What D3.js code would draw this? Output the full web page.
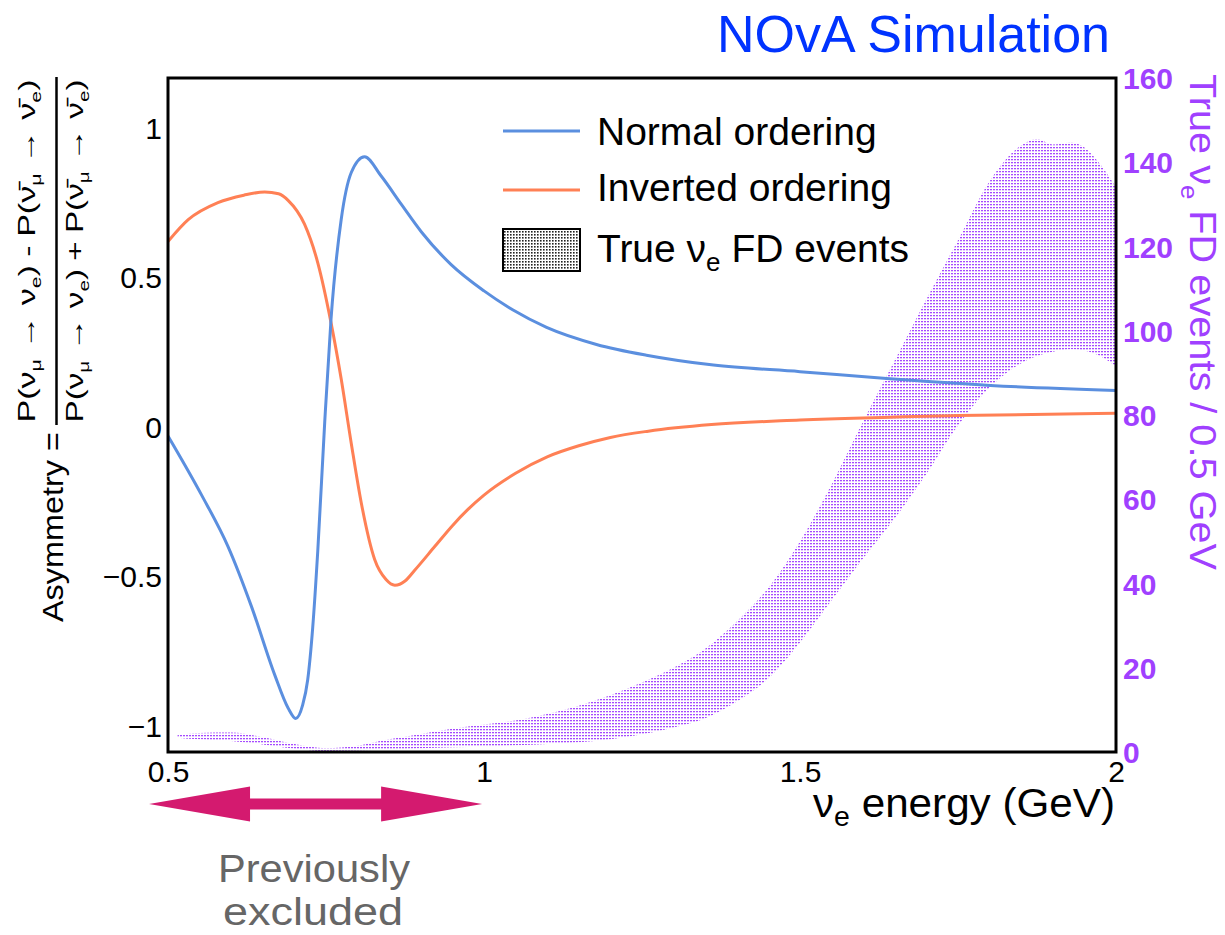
<!DOCTYPE html>
<html>
<head>
<meta charset="utf-8">
<script src="https://cdn.jsdelivr.net/npm/d3@7"></script>
<style>
  body { margin: 0; background: #fff; }
  text { font-family: "Liberation Sans", Arial, Helvetica, sans-serif; }
</style>
</head>
<body>
<svg id="chart" width="1225" height="935"></svg>
<script>
// Asymmetry for normal ordering vs neutrino energy (GeV)
const normalEnergy = [0.5, 0.553, 0.595, 0.632, 0.669, 0.69, 0.702, 0.713, 0.721, 0.729, 0.737, 0.748, 0.758, 0.774, 0.79, 0.811, 0.837, 0.869, 0.901, 0.948, 1.0, 1.046, 1.099, 1.178, 1.257, 1.363, 1.5, 1.642, 1.801, 2.0];
const normalAsym   = [-0.03, -0.227, -0.40, -0.60, -0.83, -0.94, -0.975, -0.93, -0.846, -0.67, -0.414, 0.017, 0.362, 0.693, 0.851, 0.904, 0.84, 0.745, 0.652, 0.543, 0.455, 0.391, 0.333, 0.276, 0.240, 0.207, 0.185, 0.161, 0.139, 0.122];

// Asymmetry for inverted ordering
const invertedEnergy = [0.5, 0.532, 0.579, 0.62, 0.653, 0.675, 0.69, 0.716, 0.737, 0.758, 0.774, 0.79, 0.806, 0.827, 0.845, 0.859, 0.875, 0.89, 0.922, 0.95, 0.975, 1.0, 1.05, 1.1, 1.15, 1.2, 1.26, 1.36, 1.5, 1.75, 2.0];
const invertedAsym   = [0.62, 0.693, 0.750, 0.775, 0.786, 0.78, 0.758, 0.678, 0.549, 0.348, 0.161, -0.055, -0.256, -0.443, -0.51, -0.529, -0.515, -0.48, -0.40, -0.33, -0.275, -0.228, -0.155, -0.10, -0.063, -0.035, -0.014, 0.008, 0.023, 0.038, 0.046];

// True nu_e far-detector events per 0.5 GeV: lower and upper edge of the band
const bandEnergy = [0.515, 0.55, 0.6, 0.65, 0.7, 0.75, 0.8, 0.85, 0.9, 0.95, 1.0, 1.05, 1.1, 1.15, 1.2, 1.25, 1.3, 1.35, 1.4, 1.45, 1.5, 1.55, 1.6, 1.65, 1.7, 1.75, 1.8, 1.85, 1.875, 1.9, 1.93, 1.95, 1.975, 2.0];
const bandLow  = [3.4, 3.0, 2.6, 1.8, 0.8, 0.3, 0.4, 0.6, 0.9, 1.1, 1.3, 1.6, 1.9, 2.3, 3.0, 4.2, 5.8, 8.0, 12.0, 17.5, 26.0, 36.0, 46.0, 55.5, 66.0, 77.5, 86.5, 92.3, 94.0, 95.0, 95.6, 95.3, 94.0, 91.5];
const bandHigh = [4.0, 4.5, 4.6, 3.5, 1.9, 0.9, 1.5, 3.0, 4.3, 5.5, 6.5, 7.5, 9.0, 11.0, 13.5, 16.5, 20.0, 24.5, 31.0, 39.0, 50.0, 63.5, 78.5, 93.0, 107.5, 121.5, 135.5, 144.0, 145.5, 144.2, 144.7, 143.5, 139.5, 134.0];

const xTicks = [0.5, 1, 1.5, 2];
const asymTicks = [-1, -0.5, 0, 0.5, 1];
const eventTicks = [0, 20, 40, 60, 80, 100, 120, 140, 160];

const legendItems = ["Normal ordering", "Inverted ordering"];

const frame = { left: 168, right: 1116, top: 78, bottom: 752 };
const colNormal = "#5b8fdf", colInverted = "#ff8055", colPurple = "#a040ff";

const svg = d3.select("#chart");
const defs = svg.append("defs");

// dotted fills
const pBand = defs.append("pattern").attr("id", "bandDots")
  .attr("patternUnits", "userSpaceOnUse").attr("width", 3).attr("height", 3);
pBand.append("rect").attr("width", 2).attr("height", 1.3).attr("fill", "#a64aff");

const pLeg = defs.append("pattern").attr("id", "legendDots")
  .attr("patternUnits", "userSpaceOnUse").attr("width", 3).attr("height", 3);
pLeg.append("rect").attr("width", 3).attr("height", 3).attr("fill", "#fff");
pLeg.append("rect").attr("width", 1.6).attr("height", 1.6).attr("fill", "#222");

defs.append("clipPath").attr("id", "plotClip").append("rect")
  .attr("x", frame.left).attr("y", frame.top)
  .attr("width", frame.right - frame.left).attr("height", frame.bottom - frame.top);

const x = d3.scaleLinear().domain([0.5, 2]).range([frame.left, frame.right]);
const yA = d3.scaleLinear().domain([-1.087, 1.167]).range([frame.bottom, frame.top]);
const yE = d3.scaleLinear().domain([0, 160]).range([frame.bottom, frame.top]);

const plot = svg.append("g").attr("clip-path", "url(#plotClip)");

// event band
const band = bandEnergy.map((e, i) => ({ e, lo: bandLow[i], hi: bandHigh[i] }));
plot.append("path").datum(band)
  .attr("fill", "url(#bandDots)")
  .attr("d", d3.area().x(d => x(d.e)).y0(d => yE(d.lo)).y1(d => yE(d.hi))
    .curve(d3.curveMonotoneX));

// asymmetry curves
const line = d3.line().x(d => x(d[0])).y(d => yA(d[1])).curve(d3.curveMonotoneX);
plot.append("path").datum(invertedEnergy.map((e, i) => [e, invertedAsym[i]]))
  .attr("fill", "none").attr("stroke", colInverted).attr("stroke-width", 3).attr("d", line);
plot.append("path").datum(normalEnergy.map((e, i) => [e, normalAsym[i]]))
  .attr("fill", "none").attr("stroke", colNormal).attr("stroke-width", 3).attr("d", line);

// frame
svg.append("rect").attr("x", frame.left).attr("y", frame.top)
  .attr("width", frame.right - frame.left).attr("height", frame.bottom - frame.top)
  .attr("fill", "none").attr("stroke", "#000").attr("stroke-width", 3);

const fmt = d3.format("~g");
const fontFam = "Liberation Sans, Arial, sans-serif";

// bottom axis
const gx = svg.append("g").attr("transform", `translate(0,${frame.bottom})`)
  .call(d3.axisBottom(x).tickValues(xTicks).tickSize(0).tickFormat(fmt));
gx.select(".domain").remove();
gx.selectAll("text").attr("y", 30).attr("dy", 0)
  .attr("font-size", 30).attr("fill", "#000").style("font-family", fontFam);

// left axis
const gy = svg.append("g").attr("transform", `translate(${frame.left},0)`)
  .call(d3.axisLeft(yA).tickValues(asymTicks).tickSize(0).tickFormat(fmt));
gy.select(".domain").remove();
gy.selectAll("text").attr("x", -6).attr("dy", "0.35em")
  .attr("font-size", 30).attr("fill", "#000").style("font-family", fontFam);

// right axis
const gr = svg.append("g").attr("transform", `translate(${frame.right},0)`)
  .call(d3.axisRight(yE).tickValues(eventTicks).tickSize(0).tickFormat(fmt));
gr.select(".domain").remove();
gr.selectAll("text").attr("x", 7).attr("dy", "0.35em")
  .attr("font-size", 30).attr("font-weight", "bold").attr("fill", colPurple)
  .style("font-family", fontFam);

// header
svg.append("text").attr("x", 1110).attr("y", 52).attr("text-anchor", "end")
  .attr("font-size", 52).attr("fill", "#0033ff").text("NOvA Simulation");

// x axis title
const xt = svg.append("text").attr("x", 1115).attr("y", 817).attr("text-anchor", "end")
  .attr("font-size", 40).attr("fill", "#000")
  .attr("textLength", 302).attr("lengthAdjust", "spacingAndGlyphs");
xt.append("tspan").text("\u03bd");
xt.append("tspan").attr("font-size", 27).attr("dy", 9).text("e");
xt.append("tspan").attr("dy", -9).text(" energy (GeV)");

// right axis title (reads downward)
const rt = svg.append("text").attr("transform", "translate(1190,74) rotate(90)")
  .attr("font-size", 37).attr("fill", colPurple)
  .attr("textLength", 496).attr("lengthAdjust", "spacingAndGlyphs");
rt.append("tspan").text("True \u03bd");
rt.append("tspan").attr("font-size", 24).attr("dy", 9).text("e");
rt.append("tspan").attr("dy", -9).text(" FD events / 0.5 GeV");

// left axis title: Asymmetry = fraction
const lt = svg.append("g");
lt.append("text").attr("transform", "translate(63,622) rotate(-90)")
  .attr("font-size", 29).attr("fill", "#000")
  .attr("textLength", 190).attr("lengthAdjust", "spacingAndGlyphs")
  .text("Asymmetry =");
lt.append("line").attr("x1", 56.5).attr("x2", 56.5).attr("y1", 77).attr("y2", 425)
  .attr("stroke", "#000").attr("stroke-width", 2.5);

function probTerm(sel, lead, nuBar) {
  // P(nu_mu -> nu_e), optionally for anti-neutrinos
  const nu = nuBar ? "\u03bd\u0304" : "\u03bd";
  if (lead) sel.append("tspan").attr("dx", 6).text(lead);
  sel.append("tspan").attr("dx", lead ? 6 : 0).text("P(" + nu);
  sel.append("tspan").attr("font-size", 15).attr("dy", 6).text("\u03bc");
  sel.append("tspan").attr("dy", -6).attr("dx", 7).text("\u2192");
  sel.append("tspan").attr("dx", 7).text(nu);
  sel.append("tspan").attr("font-size", 15).attr("dy", 6).text("e");
  sel.append("tspan").attr("dy", -6).text(")");
}
const num = lt.append("text").attr("transform", "translate(35,251) rotate(-90)")
  .attr("text-anchor", "middle").attr("font-size", 24).attr("fill", "#000")
  .attr("textLength", 343).attr("lengthAdjust", "spacingAndGlyphs");
probTerm(num, null, false);
probTerm(num, "-", true);
const den = lt.append("text").attr("transform", "translate(83,251) rotate(-90)")
  .attr("text-anchor", "middle").attr("font-size", 24).attr("fill", "#000")
  .attr("textLength", 343).attr("lengthAdjust", "spacingAndGlyphs");
probTerm(den, null, false);
probTerm(den, "+", true);

// legend
const lg = svg.append("g");
[colNormal, colInverted].forEach((c, i) => {
  const yy = 131 + i * 59;
  lg.append("line").attr("x1", 503).attr("x2", 580).attr("y1", yy).attr("y2", yy)
    .attr("stroke", c).attr("stroke-width", 3);
  lg.append("text").attr("x", 597).attr("y", 145 + i * 56).attr("font-size", 39)
    .attr("fill", "#000").text(legendItems[i]);
});
lg.append("rect").attr("x", 503).attr("y", 229).attr("width", 77).attr("height", 42)
  .attr("fill", "url(#legendDots)").attr("stroke", "#000").attr("stroke-width", 2);
const l3 = lg.append("text").attr("x", 597).attr("y", 262).attr("font-size", 39).attr("fill", "#000");
l3.append("tspan").text("True \u03bd");
l3.append("tspan").attr("font-size", 26).attr("dy", 9).text("e");
l3.append("tspan").attr("dy", -9).text(" FD events");

// previously excluded range marker
const ay = 804;
const xl = x(0.47), xr = x(0.997);
const headL = 101, headH = 17.5, shaftH = 5.5;
const arrowPts = [
  [xl, ay], [xl + headL, ay - headH], [xl + headL, ay - shaftH],
  [xr - headL, ay - shaftH], [xr - headL, ay - headH], [xr, ay],
  [xr - headL, ay + headH], [xr - headL, ay + shaftH],
  [xl + headL, ay + shaftH], [xl + headL, ay + headH]
];
svg.append("polygon").attr("points", arrowPts.map(p => p.join(",")).join(" "))
  .attr("fill", "#d41a6f");
svg.append("text").attr("x", 314).attr("y", 882).attr("text-anchor", "middle")
  .attr("font-size", 39).attr("fill", "#666")
  .attr("textLength", 192).attr("lengthAdjust", "spacingAndGlyphs").text("Previously");
svg.append("text").attr("x", 313).attr("y", 925).attr("text-anchor", "middle")
  .attr("font-size", 39).attr("fill", "#666")
  .attr("textLength", 180).attr("lengthAdjust", "spacingAndGlyphs").text("excluded");
</script>
</body>
</html>
